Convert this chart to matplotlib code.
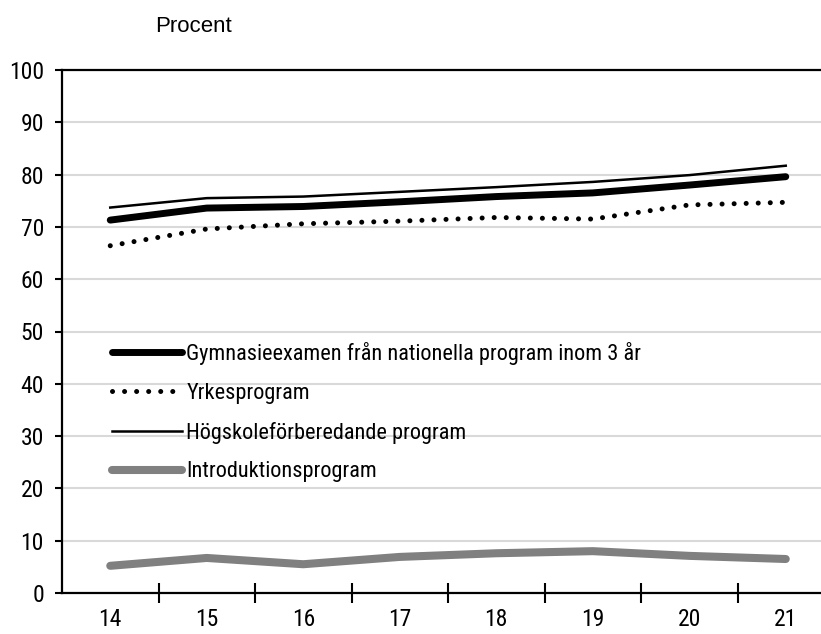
import matplotlib
matplotlib.use("Agg")
import matplotlib.pyplot as plt
from matplotlib import font_manager as fm

years = ["14", "15", "16", "17", "18", "19", "20", "21"]
gymnasieexamen = [71.3, 73.6, 73.9, 74.8, 75.8, 76.5, 78.0, 79.6]
yrkesprogram = [66.4, 69.6, 70.6, 71.1, 71.8, 71.5, 74.2, 74.7]
hogskole = [73.7, 75.5, 75.8, 76.7, 77.6, 78.6, 79.9, 81.7]
intro = [5.2, 6.7, 5.5, 6.9, 7.6, 8.0, 7.1, 6.5]
labels = ["Gymnasieexamen från nationella program inom 3 år",
          "Yrkesprogram",
          "Högskoleförberedande program",
          "Introduktionsprogram"]
yticks = [0, 10, 20, 30, 40, 50, 60, 70, 80, 90, 100]

names = {f.name for f in fm.fontManager.ttflist}
cond = None
for cand in ["Liberation Sans Narrow", "DejaVu Sans Condensed", "Roboto Condensed"]:
    if cand in names:
        cond = cand
        break
if cond is None:
    condprops = dict(family="DejaVu Sans", stretch="condensed")
else:
    condprops = dict(family=cond)

W, H = 821, 634
fig = plt.figure(figsize=(W / 100, H / 100), dpi=100)
left, right, top, bottom = 62, 834, 70, 593
ax = fig.add_axes([left / W, (H - bottom) / H, (right - left) / W, (bottom - top) / H])

x = list(range(len(years)))
ax.plot(x, gymnasieexamen, color="black", lw=5, solid_capstyle="round", label=labels[0], zorder=4)
ax.plot(x, yrkesprogram, color="black", lw=3.6, linestyle=(0, (0.01, 2.4)), dash_capstyle="round", label=labels[1], zorder=4)
ax.plot(x, hogskole, color="black", lw=1.8, label=labels[2], zorder=4)
ax.plot(x, intro, color="#808080", lw=5.8, solid_capstyle="round", label=labels[3], zorder=4)

ax.set_xlim(-0.5, len(years) - 0.5)
ax.set_ylim(0, 100)
ax.set_yticks(yticks)
ax.yaxis.grid(True, color="#d9d9d9", lw=1.5, zorder=0)
ax.set_axisbelow(True)
ax.spines["right"].set_visible(False)
for s in ["left", "top", "bottom"]:
    ax.spines[s].set_linewidth(1.6)
ax.tick_params(axis="y", direction="out", length=5, width=1.5, pad=8)
ax.set_xticks(x)
ax.set_xticklabels(years)
ax.set_xticks([i + 0.5 for i in range(len(years) - 1)], minor=True)
ax.tick_params(axis="x", which="major", length=0, pad=11)
ax.tick_params(axis="x", which="minor", direction="inout", length=14, width=1.5)
for lab in ax.get_xticklabels() + ax.get_yticklabels():
    lab.set_fontproperties(fm.FontProperties(size=17, **condprops))

leg = ax.legend(loc="upper left", bbox_to_anchor=(92 / W, 1 - 322 / H), bbox_transform=fig.transFigure,
                frameon=False, handlelength=3.15, handletextpad=0.2, labelspacing=0.8,
                prop=fm.FontProperties(size=16, **condprops))

fig.text(155 / W, 1 - 27 / H, "Procent", fontsize=16, family="Liberation Sans", ha="left", va="center")

fig.savefig("out.png", dpi=100)
